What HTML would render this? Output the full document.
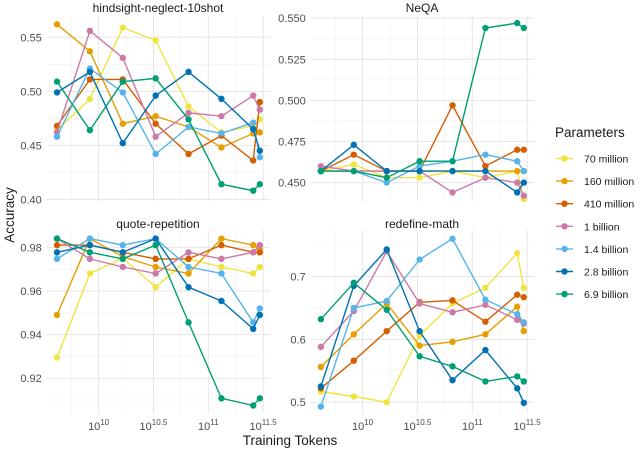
<!DOCTYPE html>
<html><head><meta charset="utf-8"><style>
body{margin:0;background:#fff;}
svg{display:block;font-family:"Liberation Sans",sans-serif;}
</style></head><body>
<svg id="c" width="640" height="452"></svg>
<script>
const xTokens = [9.62, 9.92, 10.22, 10.52, 10.82, 11.12, 11.41, 11.47];
const seriesNames = ["70 million","160 million","410 million","1 billion","1.4 billion","2.8 billion","6.9 billion"];
const colors = ["#F0E442","#E69F00","#D55E00","#CC79A7","#56B4E9","#0072B2","#009E73"];
const hindsight = [
 [0.464,0.493,0.559,0.547,0.486,0.462,0.468,0.474],
 [0.562,0.537,0.470,0.477,0.467,0.448,0.461,0.462],
 [0.468,0.511,0.511,0.470,0.442,0.459,0.436,0.490],
 [0.462,0.556,0.531,0.458,0.480,0.477,0.496,0.483],
 [0.458,0.521,0.499,0.442,0.467,0.461,0.471,0.439],
 [0.499,0.518,0.452,0.496,0.518,0.493,0.465,0.445],
 [0.509,0.464,0.509,0.512,0.474,0.414,0.408,0.414]];
const neqa = [
 [0.457,0.461,0.453,0.453,0.457,0.453,0.457,0.440],
 [0.457,0.457,0.457,0.457,0.457,0.457,0.457,0.457],
 [0.457,0.467,0.457,0.457,0.497,0.460,0.470,0.470],
 [0.460,0.457,0.457,0.457,0.444,0.453,0.450,0.442],
 [0.457,0.457,0.450,0.460,0.463,0.467,0.463,0.457],
 [0.457,0.473,0.457,0.457,0.457,0.457,0.444,0.450],
 [0.457,0.457,0.453,0.463,0.463,0.544,0.547,0.544]];
const quote = [
 [0.9295,0.968,0.975,0.9617,0.9747,0.971,0.968,0.971],
 [0.949,0.984,0.9757,0.971,0.968,0.984,0.981,0.979],
 [0.981,0.981,0.9777,0.9747,0.9747,0.981,0.9777,0.9777],
 [0.984,0.9747,0.971,0.968,0.9777,0.9747,0.9777,0.981],
 [0.9747,0.984,0.981,0.984,0.971,0.968,0.9456,0.952],
 [0.9777,0.981,0.9777,0.984,0.9617,0.9554,0.9426,0.949],
 [0.984,0.9777,0.9747,0.981,0.9456,0.9108,0.9075,0.9108]];
const redefine = [
 [0.517,0.509,0.500,0.606,0.657,0.682,0.737,0.682],
 [0.556,0.608,0.657,0.590,0.596,0.608,0.652,0.613],
 [0.522,0.566,0.613,0.659,0.662,0.628,0.671,0.667],
 [0.588,0.645,0.740,0.657,0.643,0.655,0.631,0.625],
 [0.493,0.650,0.661,0.727,0.760,0.663,0.640,0.627],
 [0.525,0.685,0.743,0.613,0.535,0.583,0.522,0.499],
 [0.632,0.690,0.647,0.573,0.557,0.533,0.541,0.533]];
const xMajor = [10, 10.5, 11, 11.5];
const xMajorLabels = ["10","10.5","11","11.5"];
const xMinor = [9.75, 10.25, 10.75, 11.25];

const NS="http://www.w3.org/2000/svg";
const svg=document.getElementById('c');
function mk(t,a,p){const e=document.createElementNS(NS,t);for(const k in a)e.setAttribute(k,a[k]);(p||svg).appendChild(e);return e;}

const panels=[
 {name:"hindsight-neglect-10shot",data:hindsight,x0:46.8,x1:270,y0:201.5,y1:15.7,ymin:0.398,ymax:0.570,ticks:[0.40,0.45,0.50,0.55],fmt:2,bottom:false,tx:158,ty:12},
 {name:"NeQA",data:neqa,x0:310.7,x1:534,y0:201.5,y1:15.7,ymin:0.4385,ymax:0.5515,ticks:[0.450,0.475,0.500,0.525,0.550],fmt:3,bottom:false,tx:422,ty:12},
 {name:"quote-repetition",data:quote,x0:46.8,x1:270,y0:413.8,y1:230.3,ymin:0.9037,ymax:0.9878,ticks:[0.92,0.94,0.96,0.98],fmt:2,bottom:true,tx:158,ty:228},
 {name:"redefine-math",data:redefine,x0:310.7,x1:534,y0:413.8,y1:230.3,ymin:0.4815,ymax:0.7735,ticks:[0.5,0.6,0.7],fmt:1,bottom:true,tx:422,ty:228}
];
const XMIN=9.527, XMAX=11.563;
panels.forEach(p=>{
 const g=mk('g',{});
 
 
 const X=v=>p.x0+(v-XMIN)/(XMAX-XMIN)*(p.x1-p.x0);
 const Y=v=>p.y0-(v-p.ymin)/(p.ymax-p.ymin)*(p.y0-p.y1);
 xMinor.forEach(v=>{const l=mk('line',{x1:X(v),x2:X(v),y1:p.y1,y2:p.y0,stroke:'#f0f0f0','stroke-width':0.6},g);});
 const step=p.ticks[1]-p.ticks[0];
 const mins=[p.ticks[0]-step/2,...p.ticks.map(t=>t+step/2)];
 mins.forEach(v=>{if(v<p.ymin||v>p.ymax)return;const l=mk('line',{x1:p.x0,x2:p.x1,y1:Y(v),y2:Y(v),stroke:'#f0f0f0','stroke-width':0.6},g);});
 xMajor.forEach((v,i)=>{
  const l=mk('line',{x1:X(v),x2:X(v),y1:p.y1,y2:p.y0,stroke:'#e6e6e6','stroke-width':1},g);
  
  if(p.bottom){
   const t=mk('text',{x:X(v),y:p.y0+16,'text-anchor':'middle','font-size':11,fill:'#4d4d4d'},g);
   
   t.textContent='10';
   const s=mk('tspan',{dy:-5,'font-size':8},t);s.textContent=xMajorLabels[i];
  }
 });
 p.ticks.forEach(v=>{
  const l=mk('line',{x1:p.x0,x2:p.x1,y1:Y(v),y2:Y(v),stroke:'#e6e6e6','stroke-width':1},g);
  
  const t=mk('text',{x:p.x0-5,y:Y(v)+4,'text-anchor':'end','font-size':11,fill:'#4d4d4d'},g);
  
  t.textContent=v.toFixed(p.fmt);
 });
 const tt=mk('text',{x:p.tx,y:p.ty,'text-anchor':'middle','font-size':12,fill:'#1a1a1a'},g);
 
 tt.textContent=p.name;
 p.data.forEach((ser,si)=>{
  const pts=ser.map((v,i)=>X(xTokens[i]).toFixed(1)+','+Y(v).toFixed(1)).join(' ');
  const pl=mk('polyline',{points:pts,fill:'none',stroke:colors[si],'stroke-width':1.4},g);
  
  
  ser.forEach((v,i)=>{
   const c=mk('circle',{cx:X(xTokens[i]),cy:Y(v),r:3.2,fill:colors[si]},g);
   
   
  });
 });
});
let t=mk('text',{x:290,y:445,'text-anchor':'middle','font-size':13.5,fill:'#1a1a1a'});
t.textContent='Training Tokens';
t=mk('text',{x:14,y:215,'text-anchor':'middle','font-size':13.5,fill:'#1a1a1a',transform:'rotate(-90 14 215)'});
t.textContent='Accuracy';
t=mk('text',{x:555,y:137,'font-size':13.5,fill:'#1a1a1a'});
t.textContent='Parameters';
seriesNames.forEach((n,i)=>{
 const y=158.5+i*22.6;
 const g=mk('g',{});
 
 mk('line',{x1:556,x2:573,y1:y,y2:y,stroke:colors[i],'stroke-width':1.4},g);
 mk('circle',{cx:564.5,cy:y,r:3.2,fill:colors[i]},g);
 const tx=mk('text',{x:584,y:y+4,'font-size':10.5,fill:'#1a1a1a'},g);tx.textContent=n;
});
</script>
</body></html>
